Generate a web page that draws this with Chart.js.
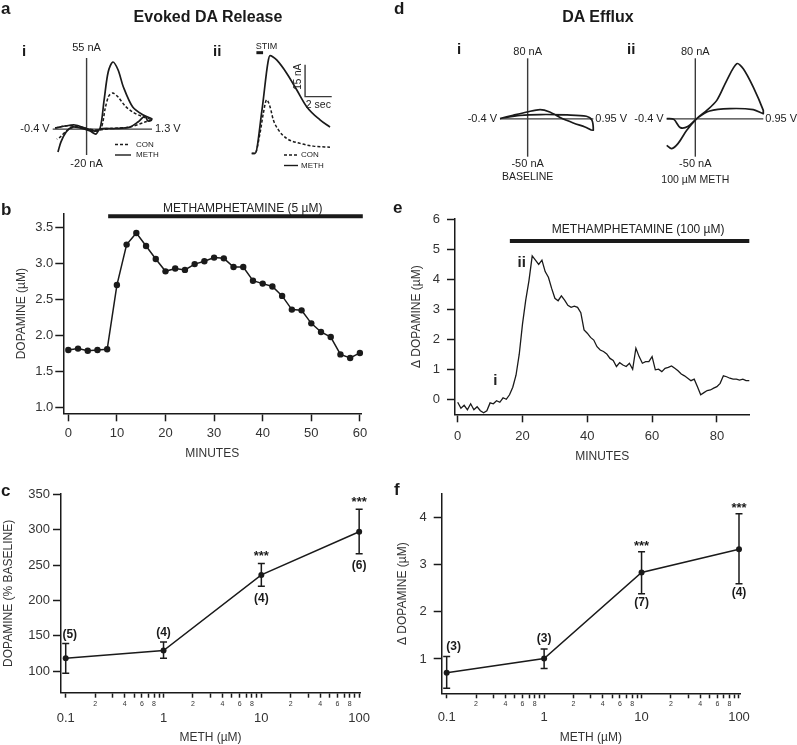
<!DOCTYPE html>
<html>
<head>
<meta charset="utf-8">
<title>Methamphetamine and dopamine release</title>
<script src="https://cdn.jsdelivr.net/npm/chart.js@4.4.1/dist/chart.umd.min.js"></script>
<style>
  body { margin: 0; background: #fff; }
  #fig { position: relative; width: 797px; height: 745px; overflow: hidden; background: #fff;
         font-family: "Liberation Sans", Arial, Helvetica, sans-serif; color: #1a1a1a; }
  #fig canvas { position: absolute; left: 0; top: 0; }
  .txt { position: absolute; white-space: nowrap; line-height: 1; font-weight: bold; transform: translateY(-50%); }
  .letter { font-size: 17px; }
  .roman { font-size: 15px; }
  .head { font-size: 16px; transform: translate(-50%, -50%); }
</style>
</head>
<body>
<div id="fig">
  <canvas id="chartAi" width="797" height="745"></canvas>
  <canvas id="chartAii" width="797" height="745"></canvas>
  <canvas id="chartDi" width="797" height="745"></canvas>
  <canvas id="chartDii" width="797" height="745"></canvas>
  <canvas id="chartB" width="797" height="745"></canvas>
  <canvas id="chartE" width="797" height="745"></canvas>
  <canvas id="chartC" width="797" height="745"></canvas>
  <canvas id="chartF" width="797" height="745"></canvas>

  <div class="txt letter" style="left:1px;top:8px">a</div>
  <div class="txt letter" style="left:394px;top:8px">d</div>
  <div class="txt letter" style="left:1px;top:209px">b</div>
  <div class="txt letter" style="left:393px;top:207px">e</div>
  <div class="txt letter" style="left:1px;top:490px">c</div>
  <div class="txt letter" style="left:394px;top:489px">f</div>
  <div class="txt head" style="left:208px;top:17px">Evoked DA Release</div>
  <div class="txt head" style="left:598px;top:17px">DA Efflux</div>
  <div class="txt roman" style="left:22px;top:50px">i</div>
  <div class="txt roman" style="left:213px;top:50px">ii</div>
  <div class="txt roman" style="left:457px;top:48px">i</div>
  <div class="txt roman" style="left:627px;top:48px">ii</div>
</div>

<script>
// ---------- data ----------

// a(i) evoked voltammograms: potential (V) and current (nA)
const aiMethV = [-0.36, -0.19, -0.02, 0.15, 0.32, 0.41, 0.48, 0.55, 0.63, 0.72, 0.81, 0.97, 1.15, 1.30,
                 1.23, 1.18, 1.06, 0.92, 0.67, 0.41, 0.34, 0.24, 0.07, -0.07, -0.17, -0.26, -0.31];
const aiMethI = [0.9, 2.4, 3.2, 0.9, -1.5, 0.5, 22.5, 44.2, 51.9, 45.7, 32.6, 17.1, 10.9, 7.8,
                 6.3, 10.1, 5.5, 1.6, 0.5, 0.1, -3.8, -1.5, 0.9, 1.6, -2.2, -10.0, -17.7];
const aiConV = [-0.36, -0.19, -0.02, 0.15, 0.32, 0.43, 0.50, 0.56, 0.63, 0.72, 0.84, 0.97, 1.15, 1.30,
                1.18, 0.92, 0.58, 0.37, 0.20, -0.02, -0.15, -0.27, -0.33];
const aiConI = [0.9, 2.4, 2.4, 0.9, -1.5, 0.9, 16.3, 25.6, 27.9, 24.8, 17.9, 13.2, 9.4, 7.0,
                5.5, 1.6, 0.5, -0.7, 0.1, 1.6, -0.7, -6.1, -7.7];
const aiRangeV = [-0.4, 1.3];
const aiRangeI = [-20, 55];
const aiCurrentAxisV = 0.18;

// a(ii) current vs time after stimulation (s, nA)
const aiiMethT = [0, 0.25, 0.77, 1.22, 1.37, 1.6, 1.87, 2.62, 3.37, 4.12, 5.12, 5.87];
const aiiMethI = [0, 0, 20.4, 42.8, 45.8, 45.2, 43.8, 37.6, 29.8, 21.9, 15.7, 12.3];
const aiiConT = [0, 0.25, 0.62, 0.87, 1.12, 1.37, 1.62, 2.0, 2.62, 3.62, 4.62, 5.87];
const aiiConI = [0, 0, 9.4, 18.8, 25.1, 21.9, 15.7, 11.0, 7.0, 4.7, 3.4, 2.9];
const aiiStim = [0.35, 0.85];
const aiiScaleBar = { t: 4.0, i: 26.6, dt: 2, di: 15 };

// d(i) baseline and d(ii) 100 µM METH voltammograms (V, nA)
const diV = [-0.40, -0.21, -0.01, 0.18, 0.32, 0.47, 0.66, 0.83, 0.95, 0.93, 0.85, 0.57, 0.18, -0.11, -0.40];
const diI = [0.4, 4.8, 9.1, 12.3, 9.1, 1.7, -5.4, -10.7, -15.0, -1.8, 3.4, 5.2, 5.7, 4.4, 0.4];
const diiV = [-0.40, -0.30, -0.21, -0.10, 0.02, 0.20, 0.48, 0.81, 0.95, 0.95, 0.81, 0.67, 0.58, 0.44,
              0.30, 0.16, 0.02, -0.12, -0.24, -0.33, -0.40];
const diiI = [0.3, -0.7, -11.6, -9.9, 0.3, 10.3, 13.5, 12.2, 6.9, 11.2, 42.0, 66.3, 72.9, 50.9,
              24.4, 11.2, 0.3, -15.2, -32.4, -39.4, -35.0];
const dRangeV = [-0.4, 0.95];
const dRangeI = [-50, 80];

// b evoked dopamine, 5 µM METH
const bMinutes = [0, 2, 4, 6, 8, 10, 12, 14, 16, 18, 20, 22, 24, 26, 28, 30,
                  32, 34, 36, 38, 40, 42, 44, 46, 48, 50, 52, 54, 56, 58, 60];
const bDopamine = [1.80, 1.82, 1.79, 1.80, 1.81, 2.70, 3.26, 3.42, 3.24, 3.06, 2.89, 2.93, 2.91, 2.99, 3.03, 3.08,
                   3.07, 2.95, 2.95, 2.76, 2.72, 2.68, 2.55, 2.36, 2.35, 2.17, 2.05, 1.98, 1.74, 1.69, 1.76];
const bTicksX = [0, 10, 20, 30, 40, 50, 60];
const bTicksY = [1.0, 1.5, 2.0, 2.5, 3.0, 3.5];
const bMethOn = [8.2, 60.6];

// e dopamine efflux, 100 µM METH (one reading per minute)
const eMinutes = Array.from({ length: 91 }, (_, i) => i);
const eDelta = [
  -0.10, -0.30, -0.20, -0.35, -0.15, -0.35, -0.25, -0.38, -0.45, -0.38,
  -0.12, -0.15, -0.05, -0.10, 0.05, 0.00, 0.15, 0.40, 0.80, 1.50,
  2.50, 3.30, 3.95, 4.77, 4.63, 4.49, 4.63, 4.25, 4.06, 3.69,
  3.36, 3.28, 3.44, 3.30, 3.13, 3.06, 3.10, 3.06, 2.88, 2.31,
  2.20, 2.06, 1.97, 1.75, 1.64, 1.59, 1.51, 1.36, 1.29, 1.09,
  1.22, 1.14, 1.09, 1.20, 1.00, 1.70, 1.42, 1.20, 1.25, 1.25,
  1.42, 0.98, 1.00, 0.92, 1.03, 1.06, 1.11, 1.03, 0.95, 0.84,
  0.78, 0.70, 0.62, 0.67, 0.42, 0.15, 0.22, 0.29, 0.31, 0.37,
  0.42, 0.53, 0.78, 0.75, 0.70, 0.67, 0.67, 0.64, 0.67, 0.62,
  0.62
];
const eTicksX = [0, 20, 40, 60, 80];
const eTicksY = [0, 1, 2, 3, 4, 5, 6];
const eMethOn = [16.1, 90];

// c, f dose response
const methDose = [0.1, 1, 10, 100];
const cMean = [118, 129, 236, 297];
const cLow = [97, 118, 220, 266];
const cHigh = [139, 141, 252, 329];
const cN = ['(5)', '(4)', '(4)', '(6)'];
const fMean = [0.71, 1.01, 2.83, 3.32];
const fLow = [0.38, 0.80, 2.38, 2.59];
const fHigh = [1.05, 1.21, 3.27, 4.07];
const fN = ['(3)', '(3)', '(7)', '(4)'];
const stars = ['', '', '***', '***'];
const nAbove = [true, true, false, false];
const cTicksY = [100, 150, 200, 250, 300, 350];
const fTicksY = [1, 2, 3, 4];
const logDecades = [0.1, 1, 10, 100];

// ---------- helpers ----------
const FONT = '"Liberation Sans", Arial, Helvetica, sans-serif';
const INK = '#1a1a1a';
const W = 797, H = 745;
Chart.defaults.font.family = FONT;
Chart.defaults.color = '#333';

const xy = (xs, ys) => xs.map((x, i) => ({ x, y: ys[i] }));

function baseOptions(area, yw, xh) {
  return {
    responsive: false, animation: false, devicePixelRatio: 1, events: [],
    layout: { autoPadding: false, padding: { left: area[0] - yw, top: area[1], right: W - area[2], bottom: H - area[3] - xh } },
    plugins: { legend: { display: false }, tooltip: { enabled: false } }
  };
}

function curve(data, o = {}) {
  return Object.assign({ data, borderColor: INK, borderWidth: 1.7, pointRadius: 0, tension: 0.3, clip: false }, o);
}

// axis line or bar drawn through the chart's own scales
function rule(data, width = 1.4, color = '#3a3a3a') {
  return { data, borderColor: color, borderWidth: width, pointRadius: 0, tension: 0, clip: false, borderCapStyle: 'butt' };
}

function frameAxis(pos, range, tickValues, o) {
  return {
    type: o.type || 'linear', position: pos, min: range[0], max: range[1],
    afterFit: s => { if (pos === 'left') s.width = o.size; else s.height = o.size; },
    afterBuildTicks: s => { s.ticks = tickValues.map(t => (typeof t === 'object' ? { ...t } : { value: t })); },
    border: { display: true, color: INK, width: 1.5 },
    grid: { display: true, drawOnChartArea: false, drawTicks: true, tickLength: o.tl, tickColor: INK, tickWidth: 1.5 },
    ticks: { autoSkip: false, maxRotation: 0, minRotation: 0, padding: o.pad, color: '#333',
             font: o.font || { size: 13 }, callback: o.fmt || (v => String(v)) },
    title: { display: true, text: o.title, padding: 0, color: '#333', font: { size: 12 } }
  };
}

// text and legend strokes; x/y in data units, px/py in page pixels
function annotate(items) {
  return {
    id: 'annotate',
    afterDatasetsDraw(chart) {
      const { ctx, scales } = chart;
      items.forEach(it => {
        const px = (it.x !== undefined ? scales.x.getPixelForValue(it.x) : it.px) + (it.dx || 0);
        const py = (it.y !== undefined ? scales.y.getPixelForValue(it.y) : it.py) + (it.dy || 0);
        ctx.save();
        if (it.line) {
          ctx.strokeStyle = INK; ctx.lineWidth = 1.4; ctx.setLineDash(it.dash || []);
          ctx.beginPath(); ctx.moveTo(it.line[0], py); ctx.lineTo(it.line[1], py); ctx.stroke();
        } else {
          ctx.font = it.font || ('11px ' + FONT);
          ctx.fillStyle = it.color || '#222';
          ctx.textAlign = it.align || 'center';
          ctx.textBaseline = 'middle';
          ctx.translate(px, py);
          if (it.rotate) ctx.rotate(it.rotate);
          ctx.fillText(it.text, 0, 0);
        }
        ctx.restore();
      });
    }
  };
}

function errorBars(xs, lows, highs) {
  return {
    id: 'errorBars',
    afterDatasetsDraw(chart) {
      const { ctx, scales: { x, y } } = chart;
      ctx.save();
      ctx.strokeStyle = INK; ctx.lineWidth = 1.5;
      xs.forEach((v, i) => {
        const px = x.getPixelForValue(v), lo = y.getPixelForValue(lows[i]), hi = y.getPixelForValue(highs[i]);
        ctx.beginPath();
        ctx.moveTo(px, lo); ctx.lineTo(px, hi);
        ctx.moveTo(px - 3.5, lo); ctx.lineTo(px + 3.5, lo);
        ctx.moveTo(px - 3.5, hi); ctx.lineTo(px + 3.5, hi);
        ctx.stroke();
      });
      ctx.restore();
    }
  };
}

function cvChart(id, area, xr, yr, datasets, notes) {
  const options = baseOptions(area, 0, 0);
  options.scales = {
    x: { type: 'linear', display: false, min: xr[0], max: xr[1] },
    y: { type: 'linear', display: false, min: yr[0], max: yr[1] }
  };
  return new Chart(document.getElementById(id), { type: 'line', data: { datasets }, options, plugins: [annotate(notes)] });
}

// ---------- a(i) ----------
cvChart('chartAi', [52.7, 58, 152, 155], aiRangeV, aiRangeI, [
  curve(xy(aiMethV, aiMethI)),
  curve(xy(aiConV, aiConI), { borderDash: [3, 2], borderWidth: 1.5 }),
  rule([{ x: aiRangeV[0], y: 0 }, { x: aiRangeV[1], y: 0 }]),
  rule([{ x: aiCurrentAxisV, y: aiRangeI[0] }, { x: aiCurrentAxisV, y: aiRangeI[1] }])
], [
  { text: '-0.4 V', x: aiRangeV[0], y: 0, dx: -3, align: 'right' },
  { text: '1.3 V', x: aiRangeV[1], y: 0, dx: 3, align: 'left' },
  { text: '55 nA', x: aiCurrentAxisV, y: aiRangeI[1], dy: -10 },
  { text: '-20 nA', x: aiCurrentAxisV, y: aiRangeI[0], dy: 9 },
  { line: [115, 129], py: 144.5, dash: [3, 2] },
  { text: 'CON', px: 136, py: 144.5, align: 'left', font: '8px ' + FONT },
  { line: [115, 131], py: 155 },
  { text: 'METH', px: 136, py: 155, align: 'left', font: '8px ' + FONT }
]);

// ---------- a(ii) ----------
const aiiStimLevel = 47.2;
cvChart('chartAii', [250, 45, 336, 160], [-0.13, 6.32], [-3.1, 50.8], [
  curve(xy(aiiMethT, aiiMethI), { cubicInterpolationMode: 'monotone' }),
  curve(xy(aiiConT, aiiConI), { cubicInterpolationMode: 'monotone', borderDash: [3, 2], borderWidth: 1.5 }),
  rule([{ x: aiiScaleBar.t, y: aiiScaleBar.i + aiiScaleBar.di }, { x: aiiScaleBar.t, y: aiiScaleBar.i },
        { x: aiiScaleBar.t + aiiScaleBar.dt, y: aiiScaleBar.i }], 1.4),
  rule(aiiStim.map(t => ({ x: t, y: aiiStimLevel })), 3, INK)
], [
  { text: 'STIM', x: 1.1, y: aiiStimLevel, dy: -6, font: '9px ' + FONT },
  { text: '15 nA', x: aiiScaleBar.t, y: aiiScaleBar.i + aiiScaleBar.di * 0.62, dx: -7, rotate: -Math.PI / 2, font: '10px ' + FONT },
  { text: '2 sec', x: aiiScaleBar.t + aiiScaleBar.dt / 2, y: aiiScaleBar.i, dy: 8, font: '10.5px ' + FONT },
  { line: [284, 298], py: 155, dash: [3, 2] },
  { text: 'CON', px: 301, py: 155, align: 'left', font: '8px ' + FONT },
  { line: [284, 298], py: 165.5 },
  { text: 'METH', px: 301, py: 165.5, align: 'left', font: '8px ' + FONT }
]);

// ---------- d(i), d(ii) ----------
function dNotes(caption, dy) {
  return [
    { text: '-0.4 V', x: dRangeV[0], y: 0, dx: -3, align: 'right' },
    { text: '0.95 V', x: dRangeV[1], y: 0, dx: 2, align: 'left' },
    { text: '80 nA', x: 0, y: dRangeI[1], dy: -6 },
    { text: '-50 nA', x: 0, y: dRangeI[0], dy: 7 },
    { text: caption, x: 0, y: dRangeI[0], dy, font: '10.5px ' + FONT }
  ];
}
const dAxes = () => [
  rule([{ x: dRangeV[0], y: 0 }, { x: dRangeV[1], y: 0 }]),
  rule([{ x: 0, y: dRangeI[0] }, { x: 0, y: dRangeI[1] }])
];
cvChart('chartDi', [500, 58.3, 593.3, 156.7], dRangeV, dRangeI,
  [curve(xy(diV, diI))].concat(dAxes()), dNotes('BASELINE', 20));
cvChart('chartDii', [666.7, 58.3, 763.3, 156.7], dRangeV, dRangeI,
  [curve(xy(diiV, diiI))].concat(dAxes()), dNotes('100 µM METH', 23.5));

// ---------- b ----------
const bBarLevel = 3.652;
new Chart(document.getElementById('chartB'), {
  type: 'line',
  data: { datasets: [
    curve(xy(bMinutes, bDopamine), { borderWidth: 1.5, tension: 0, pointRadius: 3.2, pointBackgroundColor: INK, pointBorderWidth: 0 }),
    rule(bMethOn.map(m => ({ x: m, y: bBarLevel })), 4, INK)
  ] },
  options: Object.assign(baseOptions([63.3, 214, 361, 413.3], 48.5, 47.2), {
    scales: {
      x: frameAxis('bottom', [-1.03, 60.23], bTicksX, { tl: 8, pad: 4, size: 47.2, title: 'MINUTES' }),
      y: frameAxis('left', [0.924, 3.684], bTicksY, { tl: 8, pad: 2, size: 48.5, title: 'DOPAMINE (µM)', fmt: v => v.toFixed(1) })
    }
  }),
  plugins: [annotate([{ text: 'METHAMPHETAMINE (5 µM)', x: 35.9, y: bBarLevel, dy: -8, font: '12px ' + FONT }])]
});

// ---------- e ----------
const eBarLevel = 5.27;
new Chart(document.getElementById('chartE'), {
  type: 'line',
  data: { datasets: [
    curve(xy(eMinutes, eDelta), { borderWidth: 1.3, tension: 0 }),
    rule(eMethOn.map(m => ({ x: m, y: eBarLevel })), 4, INK)
  ] },
  options: Object.assign(baseOptions([455, 219, 749.3, 414.3], 45.5, 49.6), {
    scales: {
      x: frameAxis('bottom', [-0.83, 90], eTicksX, { tl: 8, pad: 6, size: 49.6, title: 'MINUTES' }),
      y: frameAxis('left', [-0.5, 6], eTicksY, { tl: 8, pad: 7, size: 45.5, title: '\u0394 DOPAMINE (µM)' })
    }
  }),
  plugins: [annotate([
    { text: 'METHAMPHETAMINE (100 µM)', x: 55.7, y: eBarLevel, dy: -11, font: '12px ' + FONT },
    { text: 'ii', x: 19.75, y: 4.55, font: 'bold 15px ' + FONT },
    { text: 'i', x: 11.6, y: 0.62, font: 'bold 15px ' + FONT }
  ])]
});

// ---------- c, f (log dose axis) ----------
const logTicks = [];
logDecades.forEach((d, k) => {
  const last = k === logDecades.length - 1;
  for (let m = 1; m <= (last ? 1 : 9); m++) logTicks.push({ value: d * m, m, major: m === 1 });
});
const logFormat = (v, i, ticks) => {
  const t = ticks[i];
  if (t.major) return ['', String(v)];
  return t.m % 2 === 0 ? String(t.m) : '';
};
const logFont = c => (c.tick && c.tick.major) ? { size: 13, lineHeight: 0.9 } : { size: 7, lineHeight: 1.1 };

function doseChart(id, area, yw, xh, xr, yr, ticksY, yTitle, mean, lows, highs, ns, off) {
  const notes = [];
  methDose.forEach((d, i) => {
    if (nAbove[i]) notes.push({ text: ns[i], x: d, y: highs[i], dy: off.nUp, dx: i === 0 ? off.firstDx : 0, font: 'bold 12px ' + FONT, color: INK });
    else notes.push({ text: ns[i], x: d, y: lows[i], dy: off.nDown, font: 'bold 12px ' + FONT, color: INK });
    if (stars[i]) notes.push({ text: stars[i], x: d, y: highs[i], dy: off.star, font: 'bold 13px ' + FONT, color: INK });
  });
  return new Chart(document.getElementById(id), {
    type: 'line',
    data: { datasets: [
      curve(xy(methDose, mean), { borderWidth: 1.5, tension: 0, pointRadius: 3, pointBackgroundColor: INK, pointBorderWidth: 0 })
    ] },
    options: Object.assign(baseOptions(area, yw, xh), {
      scales: {
        x: frameAxis('bottom', xr, logTicks, { type: 'logarithmic', tl: 5, pad: off.xPad, size: xh, title: 'METH (µM)', fmt: logFormat, font: logFont }),
        y: frameAxis('left', yr, ticksY, { tl: 8, pad: off.yPad, size: yw, title: yTitle })
      }
    }),
    plugins: [errorBars(methDose, lows, highs), annotate(notes)]
  });
}

doseChart('chartC', [61, 494, 360, 692.7], 59.2, 51.8, [0.0895, 102], [69.3, 350.5], cTicksY,
  'DOPAMINE (% BASELINE)', cMean, cLow, cHigh, cN,
  { nUp: -9, nDown: 12, star: -7, firstDx: 4, xPad: 3, yPad: 3 });
doseChart('chartF', [441.7, 494, 740, 693.3], 45.9, 51.2, [0.0889, 102.4], [0.274, 4.49], fTicksY,
  '\u0394 DOPAMINE (µM)', fMean, fLow, fHigh, fN,
  { nUp: -10, nDown: 9, star: -5, firstDx: 7, xPad: 1.5, yPad: 7 });
</script>
</body>
</html>
